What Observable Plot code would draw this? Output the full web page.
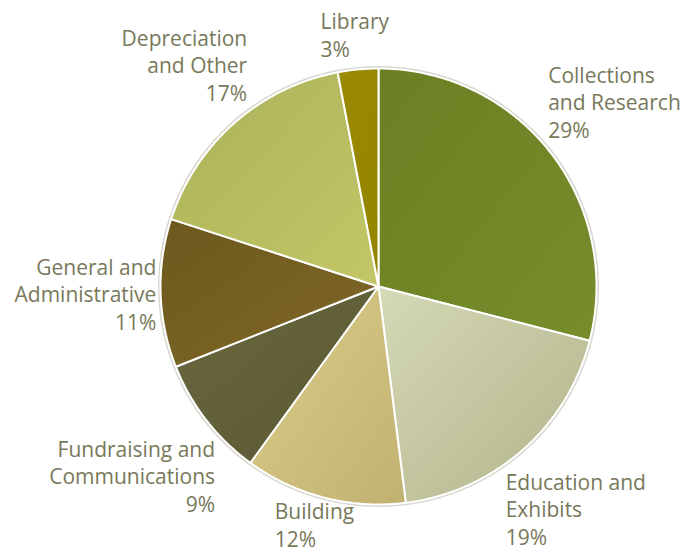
<!DOCTYPE html>
<html>
<head>
<meta charset="utf-8">
<script src="https://cdn.jsdelivr.net/npm/d3@7"></script>
<script src="https://cdn.jsdelivr.net/npm/@observablehq/plot@0.6"></script>
<style>
  html, body { margin: 0; padding: 0; background: #fff; }
  #chart { width: 682px; height: 554px; }
</style>
</head>
<body>
<div id="chart"></div>
<script>
const categories = ["Collections and Research", "Education and Exhibits", "Building", "Fundraising and Communications", "General and Administrative", "Depreciation and Other", "Library"];
const values = [29, 19, 12, 9, 11, 17, 3];
const labelLines = [["Collections", "and Research"], ["Education and", "Exhibits"], ["Building"], ["Fundraising and", "Communications"], ["General and", "Administrative"], ["Depreciation", "and Other"], ["Library"]];
const gradientColors = [["#6b8022", "#778c2b"], ["#d5d9b6", "#b1b389"], ["#dbcd88", "#c1b172"], ["#69683f", "#5a5833"], ["#6d591e", "#7f6727"], ["#abb259", "#c2c666"], ["#9b8a00", "#948500"]];

const W = 682, H = 554, cx = 378, cy = 286, R = 218;
const fontFamily = "'Open Sans', sans-serif";
const fontSize = 21, lineHeight = 27.5;
const textColor = "#78785a";

const pie = d3.pie().sort(null).value(d => d.value);
const arcs = pie(categories.map((c, i) => ({category: c, value: values[i], index: i})));

// slice polygons in unit coordinates (y up)
const slices = arcs.map(a => {
  const pts = [{x: 0, y: 0}];
  const n = Math.max(4, Math.ceil((a.endAngle - a.startAngle) / 0.01));
  for (let k = 0; k <= n; k++) {
    const t = a.startAngle + (a.endAngle - a.startAngle) * k / n;
    pts.push({x: Math.sin(t), y: Math.cos(t)});
  }
  pts.push({x: 0, y: 0});
  return {index: a.data.index, pts};
});

// labels placed just outside the slice, along its mid-angle, kept inside the frame
const ctx = document.createElement("canvas").getContext("2d");
ctx.font = `${fontSize}px ${fontFamily}`;
const pad = 3;
const labelRows = [];
arcs.forEach(a => {
  const i = a.data.index;
  const lines = [...labelLines[i], `${values[i]}%`];
  const w = d3.max(lines, l => ctx.measureText(l).width);
  const h = lines.length * lineHeight;
  const m = (a.startAngle + a.endAngle) / 2;
  const s = Math.sin(m), c = Math.cos(m);
  const dist = R + pad + (w / 2) * Math.abs(s) + (h / 2) * Math.abs(c);
  const bx = cx + dist * s;
  let by = cy - dist * c;
  const maxBy = H - 0.7 * fontSize - lineHeight * (lines.length - 0.5) + h / 2;
  by = Math.min(by, maxBy);
  const anchor = s > -0.3 ? "start" : "end";
  const ax = anchor === "start" ? bx - w / 2 : bx + w / 2;
  lines.forEach((l, k) => {
    const ly = by - h / 2 + lineHeight * (k + 0.5);
    labelRows.push({text: l, anchor, x: (ax - cx) / R, y: (cy - ly) / R});
  });
});

const marks = [
  Plot.dot([{x: 0, y: 0}], {x: "x", y: "y", r: R + 1.5, fill: "none", stroke: "#d8d8d0", strokeWidth: 2})
];
slices.forEach(s => {
  marks.push(Plot.line(s.pts, {x: "x", y: "y", fill: `url(#grad${s.index})`, stroke: "white", strokeWidth: 2, strokeLinejoin: "round"}));
});
marks.push(Plot.text(labelRows.filter(d => d.anchor === "start"), {x: "x", y: "y", text: "text", textAnchor: "start", fill: textColor, fontSize, fontFamily}));
marks.push(Plot.text(labelRows.filter(d => d.anchor === "end"), {x: "x", y: "y", text: "text", textAnchor: "end", fill: textColor, fontSize, fontFamily}));

const svg = Plot.plot({
  width: W, height: H,
  margin: 0,
  style: {fontFamily, background: "#fff"},
  x: {domain: [-1, 1], range: [cx - R, cx + R], axis: null},
  y: {domain: [-1, 1], range: [cy + R, cy - R], axis: null},
  marks
});

const defs = document.createElementNS("http://www.w3.org/2000/svg", "defs");
defs.innerHTML = gradientColors.map((g, i) =>
  `<linearGradient id="grad${i}" x1="0" y1="0" x2="1" y2="1"><stop offset="0" stop-color="${g[0]}"/><stop offset="1" stop-color="${g[1]}"/></linearGradient>`
).join("");
svg.insertBefore(defs, svg.firstChild);
document.getElementById("chart").appendChild(svg);
</script>
</body>
</html>
